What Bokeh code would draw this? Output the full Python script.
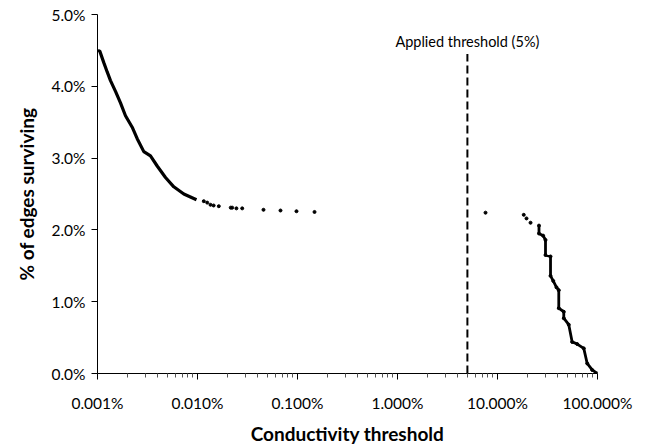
from bokeh.plotting import figure
from bokeh.models import Range1d, FixedTicker, Label
from bokeh.embed import file_html
from bokeh.resources import INLINE

# Conductivity threshold (%) vs % of edges surviving
left_x = [0.00101, 0.001054, 0.001156, 0.00125, 0.001349, 0.001514, 0.001698, 0.001905,
          0.002223, 0.002495, 0.002904, 0.003388, 0.003953, 0.004786, 0.005794,
          0.007295, 0.009772]
left_y = [4.50, 4.49, 4.33, 4.20, 4.08, 3.93, 3.77, 3.59, 3.43, 3.27, 3.09, 3.03,
          2.89, 2.73, 2.60, 2.50, 2.42]

sparse_x = [0.01156, 0.0125, 0.01349, 0.0145, 0.01633, 0.0215, 0.02223, 0.0245, 0.02799,
            0.0457, 0.0676, 0.0977, 0.148, 7.59, 18.3, 19.5, 21.4]
sparse_y = [2.40, 2.38, 2.35, 2.34, 2.33, 2.31, 2.31, 2.30, 2.30,
            2.28, 2.27, 2.26, 2.25, 2.24, 2.21, 2.16, 2.10]

right_x = [26.0, 26.0, 28.6, 30.2, 30.2, 33.9, 33.9, 36.1, 38.9, 41.0, 41.0, 46.0, 46.0,
           51.6, 55.8, 62.7, 72.9, 78.9, 88.5, 99.3]
right_y = [2.06, 1.95, 1.92, 1.86, 1.65, 1.63, 1.36, 1.29, 1.20, 1.16, 0.91, 0.86, 0.77,
           0.68, 0.44, 0.41, 0.35, 0.14, 0.05, 0.00]

x_ticks = [0.001, 0.01, 0.1, 1, 10, 100]
x_labels = ["0.001%", "0.010%", "0.100%", "1.000%", "10.000%", "100.000%"]
y_ticks = [0, 1, 2, 3, 4, 5]
y_labels = ["0.0%", "1.0%", "2.0%", "3.0%", "4.0%", "5.0%"]
threshold = 5
threshold_top = 4.45
threshold_label = "Applied threshold (5%)"
threshold_label_y = 4.62

FONT = "Lato"

p = figure(width=646, height=447, x_axis_type="log", output_backend="svg",
           toolbar_location=None, x_range=Range1d(0.001, 100), y_range=Range1d(0, 5),
           min_border_left=97, min_border_right=49, min_border_top=14, min_border_bottom=63)
p.outline_line_color = None
p.xgrid.visible = False
p.ygrid.visible = False

minor = [m * 10 ** e for e in range(-3, 2) for m in range(2, 10)]
p.xaxis.ticker = FixedTicker(ticks=x_ticks, minor_ticks=minor)
p.xaxis.major_label_overrides = {t: l for t, l in zip(x_ticks, x_labels)}
p.yaxis.ticker = FixedTicker(ticks=y_ticks)
p.yaxis.major_label_overrides = {t: l for t, l in zip(y_ticks, y_labels)}

for ax in (p.xaxis[0], p.yaxis[0]):
    ax.axis_line_color = "#000000"
    ax.axis_line_width = 1
    ax.major_tick_line_color = "#000000"
    ax.minor_tick_line_color = "#555555"
    ax.major_tick_out = 6
    ax.major_tick_in = 0
    ax.minor_tick_out = 4
    ax.minor_tick_in = 0
    ax.major_label_text_font = FONT
    ax.major_label_text_font_size = "15.5px"
    ax.major_label_text_color = "#000000"
    ax.axis_label_text_font = FONT
    ax.axis_label_text_font_size = "19px"
    ax.axis_label_text_font_style = "bold"
    ax.axis_label_text_color = "#000000"
p.yaxis.minor_tick_line_color = None
p.xaxis.axis_label = "Conductivity threshold"
p.yaxis.axis_label = "% of edges surviving"
p.xaxis.major_label_standoff = 14
p.xaxis.axis_label_standoff = 7
p.yaxis.major_label_standoff = 6
p.yaxis.axis_label_standoff = 10

p.line(left_x, left_y, line_color="black", line_width=3.2)
p.line(right_x, right_y, line_color="black", line_width=2.8)
p.scatter(sparse_x, sparse_y, size=3, color="black")
p.scatter(right_x, right_y, size=3, color="black")

p.segment(x0=[threshold], y0=[0], x1=[threshold], y1=[threshold_top],
          line_color="black", line_width=2, line_dash="8 4")
p.add_layout(Label(x=threshold, y=threshold_label_y, text=threshold_label, text_align="center",
                   text_baseline="middle", text_font=FONT, text_font_size="14.5px",
                   text_color="#000000"))

open("out.html", "w").write(file_html(p, INLINE))
